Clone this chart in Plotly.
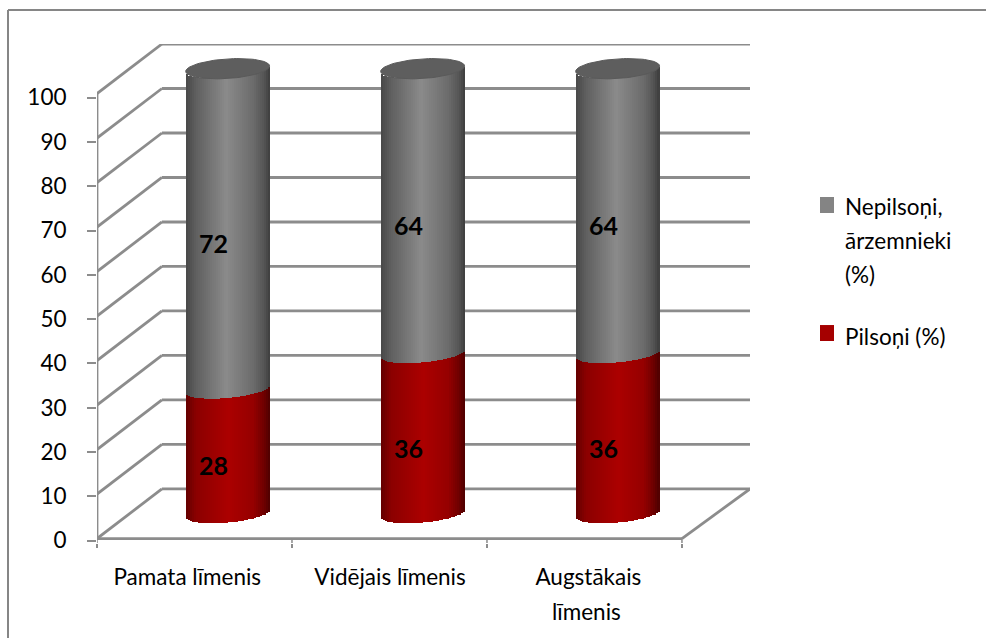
import numpy as np
import plotly.graph_objects as go

categories = ["Pamata līmenis", "Vidējais līmenis", "Augstākais\nlīmenis"]
pilsoni = [28, 36, 36]
nepilsoni = [72, 64, 64]
y_ticks = [0, 10, 20, 30, 40, 50, 60, 70, 80, 90, 100]
legend_red = ["Pilsoņi (%)"]
legend_gray = ["Nepilsoņi,", "ārzemnieki", "(%)"]

FONT = "Lato"
SIZE = 22.5
GRID = "#8c8c8c"
BACK_X0, BACK_X1, BACK_DY = 0.333, 3.349, 11.15
CYL_DX, CYL_DY = 0.17, 5.6
CYL_W = 0.43
N = 42
TILT, BULGE = 0.85, 2.0   # y units of ellipse tilt / half-height
Y_MIN = -1.0


def ramp(stops, t):
    xs = [s[0] for s in stops]
    return "rgb(%d,%d,%d)" % tuple(
        int(np.interp(t, xs, [s[1][k] for s in stops])) for k in range(3)
    )


GRAY_STOPS = [(0, (72, 72, 72)), (0.12, (96, 96, 96)), (0.48, (139, 139, 139)),
              (0.8, (108, 108, 108)), (0.93, (85, 85, 85)), (1, (62, 62, 62))]
RED_STOPS = [(0, (100, 0, 0)), (0.12, (140, 0, 0)), (0.5, (172, 0, 0)),
             (0.8, (150, 0, 0)), (0.93, (110, 0, 0)), (1, (78, 0, 0))]


def edge(t):
    """Front edge of a cylinder cross-section, relative to its centre height."""
    return TILT * t - BULGE * np.sqrt(np.clip(1 - t * t, 0, 1))


def strips(low, high, stops, name):
    xs, bases, heights, colors = [], [], [], []
    for i in range(len(categories)):
        cx = i + 0.5 + CYL_DX
        for k in range(N):
            t = (k + 0.5) / N * 2 - 1
            xs.append(cx + t * CYL_W / 2)
            b = low[i] + CYL_DY + edge(t)
            bases.append(b)
            heights.append(high[i] + CYL_DY + edge(t) - b)
            colors.append(ramp(stops, (t + 1) / 2))
    return go.Bar(x=xs, y=heights, base=bases, width=CYL_W / N * 1.05, name=name,
                  marker=dict(color=colors, line=dict(width=0)), showlegend=False,
                  hoverinfo="skip")


zero = [0] * len(categories)
tops = [a + b for a, b in zip(pilsoni, nepilsoni)]
fig = go.Figure()
fig.add_trace(strips(zero, pilsoni, RED_STOPS, "Pilsoņi (%)"))
fig.add_trace(strips(pilsoni, tops, GRAY_STOPS, "Nepilsoņi, ārzemnieki (%)"))

# cylinder top caps
theta = np.linspace(0, 2 * np.pi, 80)
for i in range(len(categories)):
    ct = np.cos(theta)
    fig.add_trace(go.Scatter(
        x=i + 0.5 + CYL_DX + ct * CYL_W / 2,
        y=tops[i] + CYL_DY + TILT * 0.7 * ct + BULGE * 1.1 * np.sin(theta),
        mode="lines", fill="toself", fillcolor="#5e5e5e",
        line=dict(color="#5a5a5a", width=1), showlegend=False, hoverinfo="skip"))

shapes = []


def seg(x0, y0, x1, y1, width=2.8, color=GRID, layer="below"):
    shapes.append(dict(type="line", xref="x", yref="y", x0=x0, y0=y0, x1=x1, y1=y1,
                       line=dict(color=color, width=width), layer=layer))


for v in y_ticks:
    seg(BACK_X0, v + BACK_DY, BACK_X1, v + BACK_DY)
    seg(0, v, BACK_X0, v + BACK_DY)
seg(0, 0, 0, 100)
seg(0, 0, 3, 0)
seg(3, 0, BACK_X1, BACK_DY)
for x in range(4):
    seg(x, 0, x, Y_MIN, width=1.5)

px = lambda v: (v - 97) / 653
py = lambda v: (542.95 - v) / 498.95

# chart frame: only its left and top edges show
for x0, y0, x1, y1 in ((8, 638, 8, 10), (8, 10, 986, 10)):
    shapes.append(dict(type="line", xref="paper", yref="paper", layer="below",
                       x0=px(x0), y0=py(y0), x1=px(x1), y1=py(y1),
                       line=dict(color="#868686", width=2)))

# legend swatches
shapes.append(dict(type="rect", xref="paper", yref="paper", x0=px(820), x1=px(834),
                   y0=py(213), y1=py(197), fillcolor="#848484", line=dict(width=0)))
shapes.append(dict(type="rect", xref="paper", yref="paper", x0=px(820), x1=px(834),
                   y0=py(341), y1=py(325), fillcolor="#a50000", line=dict(width=0)))

ann = []
for i in range(len(categories)):
    cx = i + 0.5 + CYL_DX
    for val, mid in ((pilsoni[i], pilsoni[i] / 2), (nepilsoni[i], pilsoni[i] + nepilsoni[i] / 2)):
        ann.append(dict(x=cx, y=mid + CYL_DY, xref="x", yref="y", text="<b>%d</b>" % val,
                        showarrow=False, xshift=-14, yshift=-14,
                        font=dict(family=FONT, size=25, color="black")))

# extra category label lines
for i, c in enumerate(categories):
    for j, line in enumerate(c.split("\n")[1:], start=1):
        ann.append(dict(x=i + 0.5, y=py(577 + 34 * j), xref="x", yref="paper", text=line,
                        showarrow=False, xshift=2, yanchor="middle",
                        font=dict(family=FONT, size=SIZE, color="black")))

for line, yc in zip(legend_gray, (206, 240, 274)):
    ann.append(dict(x=px(843), y=py(yc), xref="paper", yref="paper", text=line, xanchor="left",
                    yanchor="middle", showarrow=False,
                    font=dict(family=FONT, size=SIZE, color="black")))
ann.append(dict(x=px(843), y=py(336), xref="paper", yref="paper", text=legend_red[0],
                xanchor="left", yanchor="middle", showarrow=False,
                font=dict(family=FONT, size=SIZE, color="black")))

fig.update_layout(
    width=986, height=638, autosize=False, barmode="overlay", bargap=0,
    paper_bgcolor="white", plot_bgcolor="rgba(0,0,0,0)", showlegend=False,
    margin=dict(l=97, r=236, t=44, b=95.05, pad=0),
    shapes=shapes, annotations=ann,
    xaxis=dict(range=[0, BACK_X1], showgrid=False, zeroline=False, showline=False,
               tickmode="array", tickvals=[0.463, 1.503, 2.52],
               ticktext=[c.split("\n")[0] for c in categories], ticks="",
               ticklabelstandoff=18,
               tickfont=dict(family=FONT, size=SIZE, color="black"),
               minor=dict(tickmode="array", tickvals=[0, 1, 2, 3], ticks="outside",
                          ticklen=4, tickwidth=1.5, tickcolor=GRID)),
    yaxis=dict(range=[Y_MIN, 111.15], showgrid=False, zeroline=False, showline=False,
               tickmode="array", tickvals=[-0.45 + v * 0.9955 for v in y_ticks],
               ticktext=[str(v) for v in y_ticks], ticks="outside", ticklen=9,
               tickwidth=1.5, tickcolor=GRID, ticklabelstandoff=16,
               tickfont=dict(family=FONT, size=SIZE, color="black")),
    font=dict(family=FONT),
)
fig.write_html("out.html", post_script="document.body.style.margin='0';document.body.style.overflow='hidden';",
               config=dict(displayModeBar=False))
